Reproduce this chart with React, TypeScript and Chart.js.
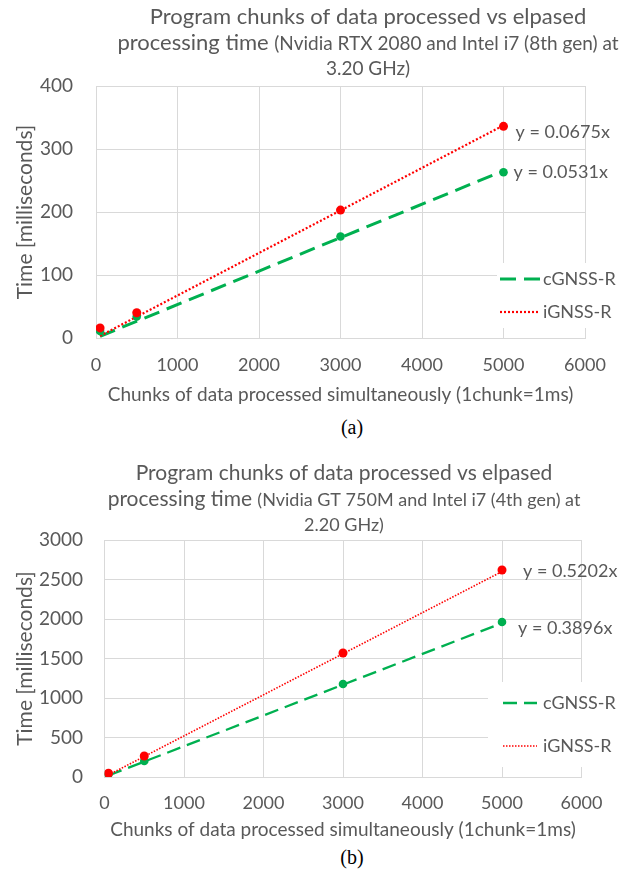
import React, { useEffect, useRef } from "react";
import { Chart, registerables } from "chart.js";

Chart.register(...registerables);

// ---------- data ----------
const chunks = [50, 500, 3000, 5000];
const seriesNames = ["cGNSS-R", "iGNSS-R"];

// (a) RTX 2080
const aCGnss = [11, 34, 161, 263];
const aIGnss = [16, 40, 203, 336];
const aSlopes = [0.0531, 0.0675];
const aYTicks = [0, 100, 200, 300, 400];
const aSub = ["(Nvidia RTX 2080 and Intel i7 (8th gen) at", "3.20 GHz)"];

// (b) GT 750M
const bCGnss = [35, 203, 1177, 1962];
const bIGnss = [47, 266, 1570, 2620];
const bSlopes = [0.3896, 0.5202];
const bYTicks = [0, 500, 1000, 1500, 2000, 2500, 3000];
const bSub = ["(Nvidia GT 750M and Intel i7 (4th gen) at", "2.20 GHz)"];

const xTicks = [0, 1000, 2000, 3000, 4000, 5000, 6000];
const titleLine1 = "Program chunks of data processed vs elpased";
const titleLine2 = "processing time ";
const xTitle = "Chunks of data processed simultaneously (1chunk=1ms)";
const yTitle = "Time [milliseconds]";

// ---------- styles ----------
const FONT = "Lato";
const TEXT = "#595959";
const GRID = "#d9d9d9";
const GREEN = "#00b050";
const RED = "#ff0000";

type Spec = {
  top: number;
  height: number;
  plotLeft: number;
  plotRight: number;
  plotTop: number;
  plotBottom: number;
  c: number[];
  i: number[];
  slopes: number[];
  yTicks: number[];
  sub: string[];
  titleCx: number;
  titleY: number[];
  bigSize: number;
  smallSize: number;
  yTickPad: number;
  xTickPad: number;
  xTitlePad: number;
  greenDash: number[];
  greenWidth: number;
  redDash: number[];
  redWidth: number;
  labelOff: { dx: number; dy: number }[];
  legend: { x: number; y: number; w: number; h: number; sx0: number; sx1: number; tx: number; ys: number[] };
};

const specA: Spec = {
  top: 0,
  height: 410,
  plotLeft: 96,
  plotRight: 585,
  plotTop: 86,
  plotBottom: 338,
  c: aCGnss,
  i: aIGnss,
  slopes: aSlopes,
  yTicks: aYTicks,
  sub: aSub,
  titleCx: 368,
  titleY: [24, 50, 75],
  bigSize: 22,
  smallSize: 19,
  yTickPad: 23,
  xTickPad: 16,
  xTitlePad: 3.6,
  greenDash: [16, 8],
  greenWidth: 3,
  redDash: [2, 2],
  redWidth: 2.2,
  labelOff: [
    { dx: 10, dy: 0 },
    { dx: 12, dy: 6 },
  ],
  legend: { x: 497, y: 263, w: 125, h: 65, sx0: 500, sx1: 540, tx: 543, ys: [279, 312] },
};

const specB: Spec = {
  top: 460,
  height: 385,
  plotLeft: 104.5,
  plotRight: 581.5,
  plotTop: 80,
  plotBottom: 317,
  c: bCGnss,
  i: bIGnss,
  slopes: bSlopes,
  yTicks: bYTicks,
  sub: bSub,
  titleCx: 344,
  titleY: [20, 46, 71],
  bigSize: 21,
  smallSize: 18,
  yTickPad: 21.5,
  xTickPad: 15,
  xTitlePad: 3.6,
  greenDash: [14, 7],
  greenWidth: 2.3,
  redDash: [1.5, 1.5],
  redWidth: 1.6,
  labelOff: [
    { dx: 16, dy: 6 },
    { dx: 21, dy: 1 },
  ],
  legend: { x: 488, y: 222, w: 134, h: 85, sx0: 503, sx1: 537, tx: 543, ys: [243, 286] },
};

function buildConfig(s: Spec): any {
  const last = chunks.length - 1;
  const pts = (arr: number[]) => chunks.map((x, k) => ({ x, y: arr[k] }));
  const trend = (slope: number) => [
    { x: chunks[0], y: slope * chunks[0] },
    { x: chunks[last], y: slope * chunks[last] },
  ];
  const yMax = s.yTicks[s.yTicks.length - 1];
  const yStep = s.yTicks[1] - s.yTicks[0];

  const overlay = {
    id: "overlay",
    afterDraw(chart: any) {
      const ctx = chart.ctx as CanvasRenderingContext2D;
      ctx.save();
      ctx.fillStyle = TEXT;
      // title
      const big = `${s.bigSize}px ${FONT}`;
      const small = `${s.smallSize}px ${FONT}`;
      const lines = [
        [{ t: titleLine1, f: big }],
        [
          { t: titleLine2, f: big },
          { t: s.sub[0], f: small },
        ],
        [{ t: s.sub[1], f: small }],
      ];
      ctx.textBaseline = "alphabetic";
      ctx.textAlign = "left";
      lines.forEach((segs, li) => {
        let total = 0;
        segs.forEach((sg) => {
          ctx.font = sg.f;
          total += ctx.measureText(sg.t).width;
        });
        let x = s.titleCx - total / 2;
        segs.forEach((sg) => {
          ctx.font = sg.f;
          ctx.fillText(sg.t, x, s.titleY[li]);
          x += ctx.measureText(sg.t).width;
        });
      });
      // trend labels
      const xs = chart.scales.x;
      const ys = chart.scales.y;
      ctx.font = `18px ${FONT}`;
      ctx.textBaseline = "middle";
      const series = [s.c, s.i];
      s.slopes.forEach((sl, k) => {
        const px = xs.getPixelForValue(chunks[last]) + s.labelOff[k].dx;
        const py = ys.getPixelForValue(series[k][last]) + s.labelOff[k].dy;
        ctx.fillText(`y = ${sl.toFixed(4)}x`, px, py);
      });
      // legend
      const L = s.legend;
      ctx.fillStyle = "#ffffff";
      ctx.fillRect(L.x, L.y, L.w, L.h);
      const styles = [
        { color: GREEN, dash: s.greenDash, w: s.greenWidth },
        { color: RED, dash: s.redDash, w: s.redWidth },
      ];
      styles.forEach((st, k) => {
        ctx.beginPath();
        ctx.strokeStyle = st.color;
        ctx.lineWidth = st.w;
        ctx.setLineDash(st.dash);
        ctx.moveTo(L.sx0, L.ys[k]);
        ctx.lineTo(L.sx1, L.ys[k]);
        ctx.stroke();
        ctx.setLineDash([]);
        ctx.fillStyle = TEXT;
        ctx.font = `18px ${FONT}`;
        ctx.textBaseline = "middle";
        ctx.fillText(seriesNames[k], L.tx, L.ys[k]);
      });
      ctx.restore();
    },
  };

  return {
    type: "scatter",
    data: {
      datasets: [
        {
          label: seriesNames[1] + " points",
          data: pts(s.i),
          pointRadius: 4.5,
          pointBackgroundColor: RED,
          pointBorderWidth: 0,
          showLine: false,
        },
        {
          label: seriesNames[0] + " points",
          data: pts(s.c),
          pointRadius: 4.3,
          pointBackgroundColor: GREEN,
          pointBorderWidth: 0,
          showLine: false,
        },
        {
          label: seriesNames[1],
          data: trend(s.slopes[1]),
          showLine: true,
          borderColor: RED,
          borderWidth: s.redWidth,
          borderDash: s.redDash,
          pointRadius: 0,
          fill: false,
        },
        {
          label: seriesNames[0],
          data: trend(s.slopes[0]),
          showLine: true,
          borderColor: GREEN,
          borderWidth: s.greenWidth,
          borderDash: s.greenDash,
          pointRadius: 0,
          fill: false,
        },
      ],
    },
    options: {
      animation: false,
      responsive: false,
      devicePixelRatio: 1,
      layout: {
        padding: { left: 0, right: 633 - s.plotRight, top: s.plotTop, bottom: 0 },
      },
      plugins: {
        legend: { display: false },
        title: { display: false },
        tooltip: { enabled: false },
      },
      scales: {
        x: {
          type: "linear",
          min: xTicks[0],
          max: xTicks[xTicks.length - 1],
          afterBuildTicks: (sc: any) => {
            sc.ticks = xTicks.map((v) => ({ value: v }));
          },
          afterFit: (sc: any) => {
            sc.height = s.height - s.plotBottom;
          },
          grid: { color: GRID, lineWidth: 1, drawTicks: false },
          border: { color: GRID, width: 1 },
          ticks: {
            color: TEXT,
            font: { family: FONT, size: 18 },
            padding: s.xTickPad,
            maxRotation: 0,
            callback: (v: any) => String(v),
          },
          title: {
            display: true,
            text: xTitle,
            color: TEXT,
            font: { family: FONT, size: 19 },
            padding: { top: 0, bottom: s.xTitlePad },
          },
        },
        y: {
          type: "linear",
          min: 0,
          max: yMax,
          afterBuildTicks: (sc: any) => {
            sc.ticks = s.yTicks.map((v) => ({ value: v }));
          },
          afterFit: (sc: any) => {
            sc.width = s.plotLeft;
          },
          grid: { color: GRID, lineWidth: 1, drawTicks: false },
          border: { color: GRID, width: 1 },
          ticks: {
            color: TEXT,
            font: { family: FONT, size: 19 },
            padding: s.yTickPad,
            stepSize: yStep,
            callback: (v: any) => String(v),
          },
          title: {
            display: true,
            text: yTitle,
            color: TEXT,
            font: { family: FONT, size: 21 },
            padding: { top: 12.4, bottom: 0 },
          },
        },
      },
    },
    plugins: [overlay],
  };
}

function Panel({ spec }: { spec: Spec }) {
  const ref = useRef<HTMLCanvasElement | null>(null);
  useEffect(() => {
    if (!ref.current) return;
    const chart = new Chart(ref.current, buildConfig(spec));
    return () => chart.destroy();
  }, [spec]);
  return (
    <canvas
      ref={ref}
      width={633}
      height={spec.height}
      style={{ position: "absolute", left: 0, top: spec.top, width: 633, height: spec.height }}
    />
  );
}

const captionStyle = (top: number): React.CSSProperties => ({
  position: "absolute",
  left: 352,
  top,
  transform: "translateX(-50%)",
  fontFamily: "'Liberation Serif', 'Times New Roman', serif",
  fontSize: 20,
  lineHeight: "24px",
  color: "#000",
  whiteSpace: "nowrap",
});

export default function App() {
  return (
    <div
      style={{
        position: "absolute",
        left: 0,
        top: 0,
        width: 633,
        height: 873,
        background: "#ffffff",
        overflow: "hidden",
      }}
    >
      <Panel spec={specA} />
      <div style={captionStyle(415)}>(a)</div>
      <Panel spec={specB} />
      <div style={captionStyle(845)}>(b)</div>
    </div>
  );
}
